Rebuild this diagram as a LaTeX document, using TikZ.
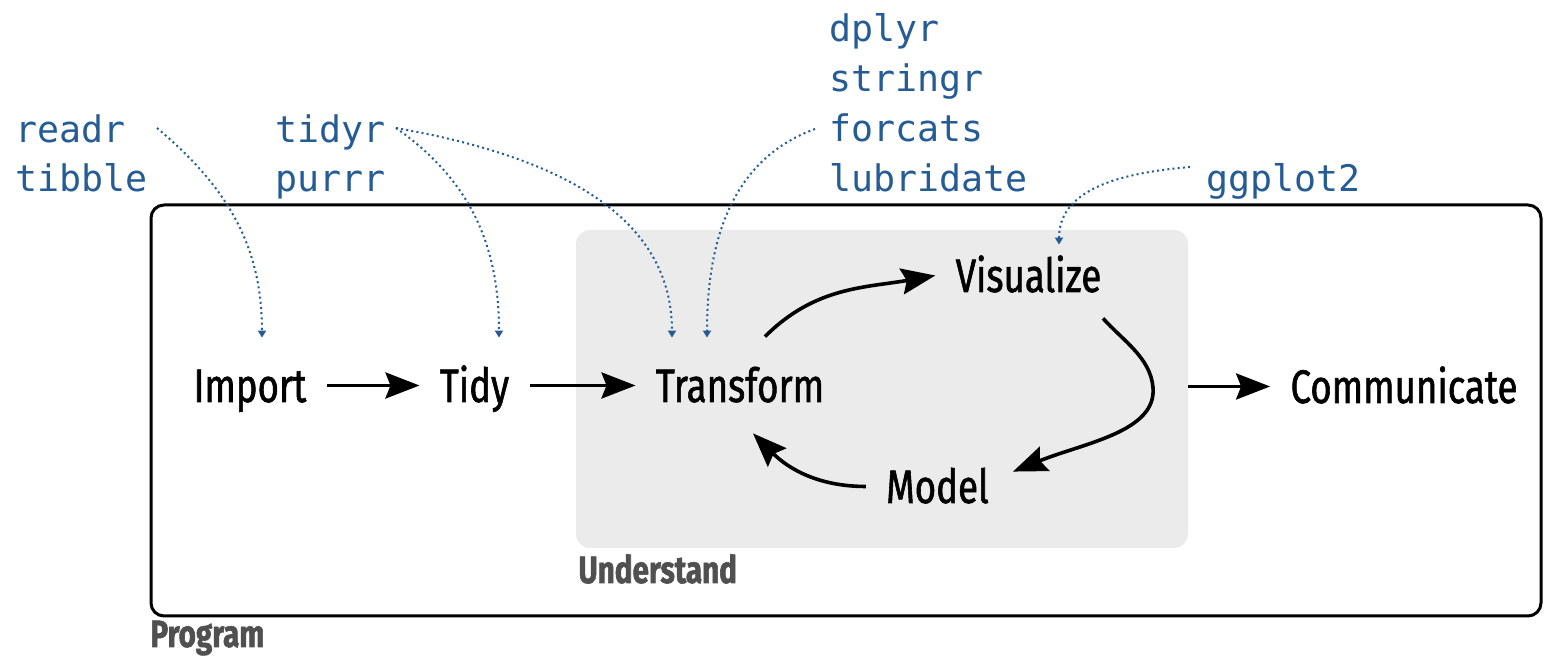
\documentclass[tikz,border=0pt]{standalone}
\usepackage{fontspec}
\setmainfont[FakeStretch=0.78]{Fira Sans}
\setmonofont{DejaVu Sans Mono}
\usetikzlibrary{arrows.meta}
\definecolor{pkgblue}{RGB}{38,92,150}
\definecolor{boxgray}{RGB}{235,235,235}
\definecolor{labelgray}{RGB}{80,80,80}

\begin{document}
\begin{tikzpicture}[x=0.5pt, y=0.5pt,
    stage/.style={font=\fontsize{23.5}{28}\selectfont\addfontfeature{FakeBold=1.2}, inner xsep=10pt, inner ysep=0pt, text height=16.5pt, text depth=0pt, anchor=base},
    pkg/.style={font=\ttfamily\fontsize{18.3}{22}\selectfont, text=pkgblue, inner sep=0pt, text height=14pt, text depth=4pt, anchor=base west},
    grouplabel/.style={font=\bfseries\fontsize{19}{22}\selectfont\addfontfeature{FakeBold=1.5}, text=labelgray, inner sep=0pt, anchor=base west},
    flow/.style={line width=1.8pt, -{Stealth[length=17pt, width=13pt, inset=2.5pt]}},
    hint/.style={pkgblue, line width=1pt, dash pattern=on 1pt off 1.6pt, -{Triangle[length=3.5pt, width=4pt]}}]
    \useasboundingbox (0,0) rectangle (1544,656);

    % Frames
    \node[draw, line width=1.5pt, rounded corners=6.5pt, minimum width=695pt, minimum height=205.5pt] (program) at (846,245.5) {};
    \node[fill=boxgray, rounded corners=7pt, minimum width=306pt, minimum height=159pt] (understand) at (882,267) {};
    \node[grouplabel] (programlbl) at (150,9) {Program};
    \node[grouplabel] (understandlbl) at (578,73) {Understand};

    % Stages
    \node[stage] (import) at (250,254) {Import};
    \node[stage] (tidy) at (474.5,254) {Tidy};
    \node[stage] (transform) at (740,254) {Transform};
    \node[stage] (visualize) at (1028.5,364) {Visualize};
    \node[stage] (model) at (937.5,153) {Model};
    \node[stage] (communicate) at (1404,253) {Communicate};

    % Packages
    \node[pkg] (readr) at (15,513) {readr};
    \node[pkg] (tibble) at (15,464) {tibble};
    \node[pkg] (tidyr) at (275,513) {tidyr};
    \node[pkg] (purrr) at (275,464) {purrr};
    \node[pkg] (dplyr) at (829,614) {dplyr};
    \node[pkg] (stringr) at (829,564) {stringr};
    \node[pkg] (forcats) at (829,514) {forcats};
    \node[pkg] (lubridate) at (829,464) {lubridate};
    \node[pkg] (ggplot) at (1206,464) {ggplot2};

    % Main flow
    \draw[flow] (import.east) -- (tidy.west);
    \draw[flow] (tidy.east) -- (transform.west);
    \draw[flow] (understand.east |- communicate.west) -- (communicate.west);

    % Cycle
    \draw[flow] ([xshift=12.5pt,yshift=16pt]transform.north) to[out=45, in=190] (visualize.west);
    \draw[flow] ([xshift=37.25pt,yshift=-13pt]visualize.south) to[out=-48, in=95, looseness=0.9] ++(50,-69) to[out=-85, in=22, out looseness=0.7, in looseness=1.2] ([xshift=37.75pt,yshift=-1pt]model.north);
    \draw[flow] (model.west) to[out=180, in=-45] ([xshift=6.5pt,yshift=-15.5pt]transform.south);

    % Package hints
    \draw[hint] ([xshift=15.5pt,yshift=2.5pt]readr.east) to[out=-40, in=90] ([xshift=6pt,yshift=15.5pt]import.north);
    \draw[hint] ([xshift=5pt,yshift=2.5pt]tidyr.east) to[out=-35, in=90] ([xshift=12.25pt,yshift=15.5pt]tidy.north);
    \draw[hint] ([xshift=5pt,yshift=2.5pt]tidyr.east) to[out=-10, in=90] ([xshift=-34pt,yshift=15.5pt]transform.north);
    \draw[hint] ([xshift=-7pt,yshift=1.5pt]forcats.west) to[out=200, in=90] ([xshift=-16.5pt,yshift=15.5pt]transform.north);
    \draw[hint] ([xshift=-8pt,yshift=7.5pt]ggplot.west) to[out=185, in=90] ([xshift=15.25pt,yshift=7pt]visualize.north);
\end{tikzpicture}
\end{document}
